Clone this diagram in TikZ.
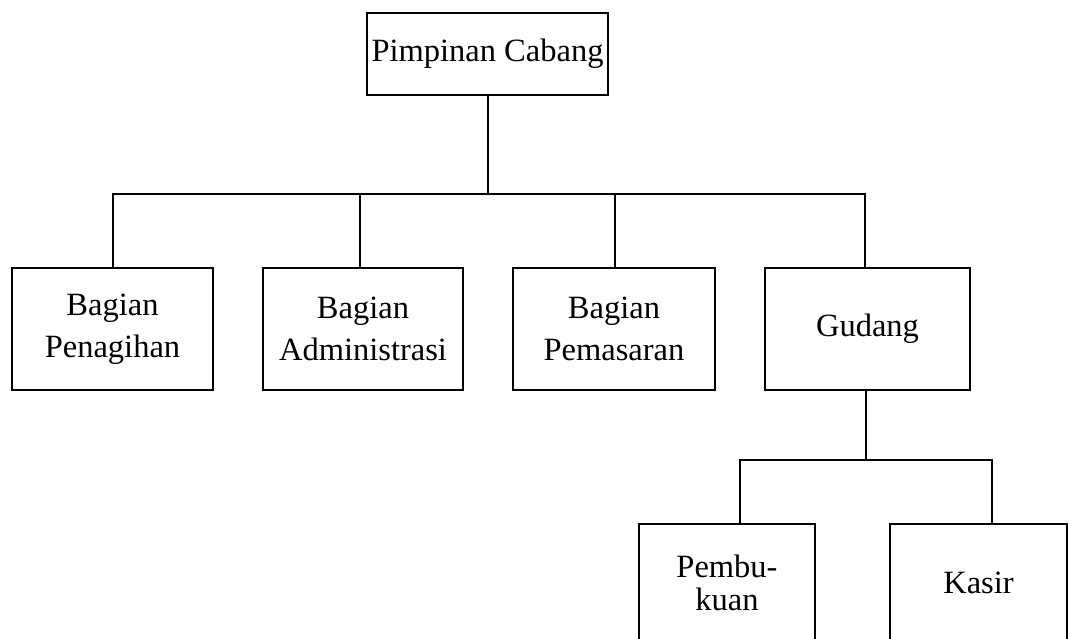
\documentclass[tikz,border=0pt]{standalone}
\usepackage{fontspec}
\setmainfont{Liberation Serif}
\begin{document}
\begin{tikzpicture}[x=1pt,y=-1pt,
  box/.style={draw,line width=2.4pt,rectangle,inner sep=0pt,align=center,
    font=\fontsize{32.5}{42}\selectfont},
  conn/.style={line width=2.4pt}]
\useasboundingbox (0,0) rectangle (1068,639);
\node[box,minimum width=241,minimum height=82] (top) at (487.5,54) {Pimpinan Cabang};
\node[box,minimum width=201,minimum height=122] (p1) at (112.5,329) {Bagian\\Penagihan};
\node[box,minimum width=200,minimum height=122] (p2) at (363,329) {Bagian\\Administrasi};
\node[box,minimum width=202,minimum height=122] (p3) at (614,329) {Bagian\\Pemasaran};
\node[box,minimum width=205,minimum height=122] (p4) at (867.5,329) {Gudang};
\node[box,minimum width=176,minimum height=118,
  font=\fontsize{32.5}{33}\selectfont] (k1) at (727,583) {Pembu-\\kuan};
\node[box,minimum width=177,minimum height=118] (k2) at (978.5,583) {Kasir};
\coordinate (bus) at (488,194);
\coordinate (bus2) at (866,460);
\coordinate (d1) at (740,524);
\coordinate (d2) at (992,524);
\draw[conn] (top.south -| bus) -- (bus);
\draw[conn] (p1.north -| 113,0) |- (bus) -| (p4.north -| 865,0);
\draw[conn] (p2.north -| 360,0) -- (bus -| 360,0);
\draw[conn] (p3.north -| 615,0) -- (bus -| 615,0);
\draw[conn] (p4.south -| bus2) -- (bus2);
\draw[conn] (d1) |- (bus2) -| (d2);
\end{tikzpicture}
\end{document}
